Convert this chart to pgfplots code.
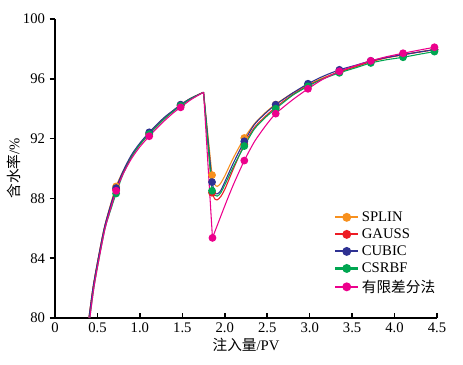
\documentclass[border=0pt]{standalone}
\usepackage{fontspec}
\setmainfont{Liberation Serif}
\newfontfamily\cjk{Noto Sans CJK SC}
\usepackage{pgfplots}
\pgfplotsset{compat=1.18}
\definecolor{cS}{HTML}{F7901E}
\definecolor{cG}{HTML}{ED1C24}
\definecolor{cC}{HTML}{2E3192}
\definecolor{cR}{HTML}{00A651}
\definecolor{cF}{HTML}{EC008C}
\begin{document}
\begin{tikzpicture}
\begin{axis}[
  scale only axis, width=286.5pt, height=224.25pt,
  xmin=0, xmax=4.5, ymin=80, ymax=100,
  axis x line*=bottom, axis y line*=left,
  axis line style={line width=1.1pt},
  xtick={0,0.5,...,4.5},
  xticklabels={0,0.5,1.0,1.5,2.0,2.5,3.0,3.5,4.0,4.5},
  ytick={80,84,88,92,96,100},
  x tick style={line width=1.1pt, black}, y tick style={line width=1.1pt, black},
  xtick align=inside, ytick align=outside,
  major tick length=4pt,
  tick label style={font=\fontsize{11}{13}\selectfont},
  /pgf/number format/assume math mode=true,
  xlabel={\cjk 注入量\rmfamily/PV}, ylabel={\cjk 含水率\rmfamily/\%},
  label style={font=\fontsize{11}{13}\selectfont},
  xlabel style={yshift=3pt}, ylabel style={yshift=-5pt},
  legend style={at={(0.72,0.375)}, anchor=north west, draw=none, fill=none,
    font=\fontsize{11}{13}\selectfont, row sep=0pt},
  legend cell align=left,
  every axis plot/.append style={line width=0.8pt},
  mark size=2.5pt,
]
% lines: rising parts
\addplot[cS, no marks, smooth, tension=0.5, forget plot] coordinates {(0.40,80)(0.45,82.1)(0.51,84.0)(0.58,86.0)(0.65,87.5)(0.72,88.8)(0.8,89.8)(0.9,90.85)(1.0,91.65)(1.11,92.38)(1.2,92.9)(1.3,93.45)(1.4,93.9)(1.48,94.27)(1.6,94.7)(1.75,95.1)};
\addplot[cG, no marks, smooth, tension=0.5, forget plot] coordinates {(0.40,80)(0.45,82.1)(0.51,84.0)(0.58,86.0)(0.65,87.4)(0.72,88.6)(0.8,89.7)(0.9,90.8)(1.0,91.6)(1.11,92.32)(1.2,92.85)(1.3,93.4)(1.4,93.88)(1.48,94.22)(1.6,94.68)(1.75,95.1)};
\addplot[cC, no marks, smooth, tension=0.5, forget plot] coordinates {(0.40,80)(0.45,82.1)(0.51,84.0)(0.58,86.0)(0.65,87.45)(0.72,88.69)(0.8,89.8)(0.9,90.9)(1.0,91.7)(1.11,92.42)(1.2,92.95)(1.3,93.48)(1.4,93.92)(1.48,94.27)(1.6,94.7)(1.75,95.1)};
\addplot[cR, no marks, smooth, tension=0.5, forget plot] coordinates {(0.41,80)(0.46,82.1)(0.52,84.0)(0.59,86.0)(0.66,87.3)(0.72,88.33)(0.8,89.6)(0.9,90.75)(1.0,91.6)(1.11,92.3)(1.2,92.82)(1.3,93.38)(1.4,93.85)(1.48,94.2)(1.6,94.66)(1.75,95.1)};
\addplot[cF, no marks, smooth, tension=0.5, forget plot] coordinates {(0.41,80)(0.46,82.1)(0.52,84.0)(0.59,86.0)(0.66,87.4)(0.72,88.51)(0.8,89.6)(0.9,90.65)(1.0,91.45)(1.11,92.16)(1.2,92.7)(1.3,93.25)(1.4,93.75)(1.48,94.09)(1.6,94.6)(1.75,95.1)};
% lines: drop and recovery
\addplot[cS, no marks, forget plot] coordinates {(1.75,95.1)(1.85,89.56)};
\addplot[cS, no marks, smooth, tension=0.4, forget plot] coordinates {(1.85,89.56)(1.88,88.95)(1.91,88.8)(1.95,89.0)(2.0,89.5)(2.1,90.7)(2.23,92.04)(2.35,93.0)(2.48,93.75)(2.6,94.3)(2.8,95.05)(2.98,95.6)(3.15,96.05)(3.35,96.48)(3.55,96.85)(3.72,97.15)(3.9,97.4)(4.1,97.62)(4.3,97.8)(4.47,97.95)};
\addplot[cG, no marks, forget plot] coordinates {(1.75,95.1)(1.85,88.38)};
\addplot[cG, no marks, smooth, tension=0.4, forget plot] coordinates {(1.85,88.38)(1.88,87.98)(1.91,87.9)(1.95,88.1)(2.0,88.6)(2.1,89.95)(2.23,91.62)(2.35,92.75)(2.48,93.5)(2.6,94.1)(2.8,94.95)(2.98,95.55)(3.15,96.0)(3.35,96.45)(3.55,96.82)(3.72,97.15)(3.9,97.4)(4.1,97.6)(4.3,97.8)(4.47,97.95)};
\addplot[cC, no marks, forget plot] coordinates {(1.75,95.1)(1.85,89.09)};
\addplot[cC, no marks, smooth, tension=0.4, forget plot] coordinates {(1.85,89.09)(1.88,88.4)(1.91,88.3)(1.95,88.5)(2.0,89.1)(2.1,90.35)(2.23,91.82)(2.35,92.95)(2.48,93.7)(2.6,94.27)(2.8,95.05)(2.98,95.67)(3.15,96.15)(3.35,96.6)(3.55,96.92)(3.72,97.2)(3.9,97.42)(4.1,97.62)(4.3,97.8)(4.47,97.95)};
\addplot[cR, no marks, forget plot] coordinates {(1.75,95.1)(1.85,88.51)};
\addplot[cR, no marks, smooth, tension=0.4, forget plot] coordinates {(1.85,88.51)(1.88,88.22)(1.91,88.15)(1.95,88.35)(2.0,88.9)(2.1,90.1)(2.23,91.5)(2.35,92.65)(2.48,93.42)(2.6,94.0)(2.8,94.9)(2.98,95.5)(3.15,95.98)(3.35,96.4)(3.55,96.75)(3.72,97.06)(3.9,97.27)(4.1,97.44)(4.3,97.65)(4.47,97.82)};
\addplot[cF, no marks, forget plot] coordinates {(1.75,95.1)(1.855,85.36)};
\addplot[cF, no marks, smooth, tension=0.4, forget plot] coordinates {(1.855,85.36)(2.0,87.5)(2.1,88.9)(2.23,90.53)(2.35,91.8)(2.48,92.85)(2.6,93.67)(2.8,94.6)(2.98,95.33)(3.15,95.95)(3.35,96.5)(3.55,96.9)(3.72,97.2)(3.9,97.47)(4.1,97.71)(4.3,97.93)(4.47,98.11)};
% markers
\addplot[cS, only marks, mark=*, forget plot] coordinates {(0.72,88.8)(1.11,92.35)(1.48,94.25)(1.85,89.56)(2.23,92.04)(2.6,94.27)(2.98,95.58)(3.35,96.48)(3.72,97.15)(4.1,97.6)(4.47,97.95)};
\addplot[cG, only marks, mark=*, forget plot] coordinates {(0.72,88.6)(1.11,92.3)(1.48,94.22)(1.85,88.38)(2.23,91.62)(2.6,94.1)(2.98,95.55)(3.35,96.45)(3.72,97.15)(4.1,97.6)(4.47,97.95)};
\addplot[cC, only marks, mark=*, forget plot] coordinates {(0.72,88.69)(1.11,92.42)(1.48,94.27)(1.85,89.09)(2.23,91.82)(2.6,94.27)(2.98,95.67)(3.35,96.6)(3.72,97.2)(4.1,97.62)(4.47,97.95)};
\addplot[cR, only marks, mark=*, forget plot] coordinates {(0.72,88.33)(1.11,92.3)(1.48,94.2)(1.85,88.51)(2.23,91.5)(2.6,94.0)(2.98,95.5)(3.35,96.4)(3.72,97.06)(4.1,97.44)(4.47,97.82)};
\addplot[cF, only marks, mark=*, forget plot] coordinates {(0.72,88.51)(1.11,92.16)(1.48,94.09)(1.855,85.36)(2.23,90.53)(2.6,93.67)(2.98,95.33)(3.35,96.5)(3.72,97.2)(4.1,97.71)(4.47,98.11)};
\addlegendimage{cS, mark=*, line width=1.6pt}\addlegendentry{SPLIN}
\addlegendimage{cG, mark=*, line width=1.6pt}\addlegendentry{GAUSS}
\addlegendimage{cC, mark=*, line width=1.6pt}\addlegendentry{CUBIC}
\addlegendimage{cR, mark=*, line width=1.6pt}\addlegendentry{CSRBF}
\addlegendimage{cF, mark=*, line width=1.6pt}\addlegendentry{\cjk 有限差分法}
\end{axis}
\pgfresetboundingbox
\path[use as bounding box] ([xshift=-41.25pt,yshift=-34.5pt]current axis.south west) rectangle ([xshift=19.5pt,yshift=14.25pt]current axis.north east);
\end{tikzpicture}
\end{document}
